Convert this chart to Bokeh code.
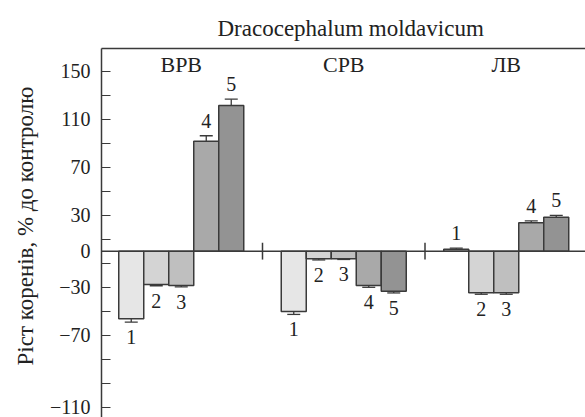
from bokeh.plotting import figure
from bokeh.models import (FixedTicker, LinearAxis, Span, Whisker, ColumnDataSource,
                          Range1d, TeeHead, Title)
from bokeh.core.properties import value
from bokeh.embed import file_html
from bokeh.resources import INLINE

# ---- data ----
groups = ["ВРВ", "СРВ", "ЛВ"]
bar_labels = ["1", "2", "3", "4", "5"]
vrv_values = [-56.3, -27.8, -28.6, 91.7, 121.4]
vrv_errors = [2.8, 1.0, 1.2, 4.5, 5.3]
srv_values = [-50.3, -6.3, -6.3, -28.6, -33.3]
srv_errors = [2.4, 1.0, 0.6, 1.5, 1.5]
lv_values = [1.7, -34.7, -34.7, 23.7, 28.3]
lv_errors = [0.8, 1.2, 1.2, 1.5, 1.5]
y_ticks = [150, 130, 110, 90, 70, 50, 30, 10, 0, -10, -30, -50, -70, -90, -110, -130]
y_tick_labels = {150: "150", 110: "110", 70: "70", 30: "30", 0: "0",
                 -30: "−30", -70: "−70", -130: "−110"}

values = [vrv_values, srv_values, lv_values]
errors = [vrv_errors, srv_errors, lv_errors]
colors = ["#e6e6e6", "#d4d4d4", "#bfbfbf", "#a9a9a9", "#939393"]
group_gap = 6.5
FONT = "Liberation Serif"
DARK = "#3a3a3a"

xs, tops, cols, uppers, lowers, ly, yoff, labs = [], [], [], [], [], [], [], []
for g, (vals, errs) in enumerate(zip(values, errors)):
    for i, (v, e) in enumerate(zip(vals, errs)):
        xs.append(g * group_gap + i + 0.5)
        tops.append(v)
        cols.append(colors[i])
        uppers.append(v + e)
        lowers.append(v - e)
        if v >= 0:
            ly.append(v + e)
            yoff.append(-15)
        else:
            ly.append(v - e)
            yoff.append(15)
        labs.append(bar_labels[i])

src = ColumnDataSource(dict(x=xs, top=tops, color=cols, upper=uppers,
                            lower=lowers, ly=ly, yoff=yoff, lab=labs))

p = figure(width=585, height=417, output_backend="svg", toolbar_location=None,
           x_range=Range1d(-0.69, 18.67), y_range=Range1d(-138.6, 168.9),
           min_border_left=101, min_border_right=0, min_border_top=48,
           min_border_bottom=0, x_axis_type=None, y_axis_type=None)
p.grid.visible = False
p.outline_line_color = None
p.background_fill_color = "white"

p.title.text = "Dracocephalum moldavicum"
p.title.align = "left"
p.title.offset = 116
p.title.standoff = 15
p.title.text_font = FONT
p.title.text_font_style = "normal"
p.title.text_font_size = "23px"
p.title.text_color = "#222222"

# top border line
top_axis = LinearAxis(ticker=FixedTicker(ticks=[]), major_tick_out=0, major_tick_in=0,
                      minor_tick_out=0, minor_tick_in=0, major_label_standoff=0,
                      axis_line_color=DARK, axis_line_width=1.5)
p.add_layout(top_axis, "above")

yaxis = LinearAxis(ticker=FixedTicker(ticks=y_ticks, minor_ticks=[]),
                   major_label_overrides={t: y_tick_labels.get(t, "") for t in y_ticks},
                   major_tick_in=9, major_tick_out=0, minor_tick_in=0, minor_tick_out=0,
                   major_label_standoff=11, axis_line_color=DARK, axis_line_width=1.5,
                   major_tick_line_color=DARK, major_tick_line_width=1.2,
                   major_label_text_font=FONT, major_label_text_font_size="20px",
                   major_label_text_color="#222222")
p.add_layout(yaxis, "left")

ytitle = Title(text="Ріст коренів, % до контролю", align="left", offset=52,
               standoff=17, text_font=FONT, text_font_style="normal",
               text_font_size="23px", text_color="#222222")
p.add_layout(ytitle, "left")

p.add_layout(Span(location=0, dimension="width", line_color=DARK, line_width=1.5))

# separators between groups
sep_x = [group_gap * (g + 1) - 0.75 for g in range(len(groups) - 1)]
p.segment(x0=sep_x, x1=sep_x, y0=[-7] * len(sep_x), y1=[7] * len(sep_x),
          line_color=DARK, line_width=1.5)

p.vbar(x="x", top="top", bottom=0, width=1.0, source=src, fill_color="color",
       line_color=DARK, line_width=1.5)

w = Whisker(base="x", upper="upper", lower="lower", dimension="height", source=src,
            line_color=DARK, line_width=1.3,
            upper_head=TeeHead(size=13, line_color=DARK, line_width=1.3),
            lower_head=TeeHead(size=13, line_color=DARK, line_width=1.3))
p.add_layout(w)

p.text(x="x", y="ly", text="lab", y_offset="yoff", source=src, text_align="center",
       text_baseline="middle", text_font=value(FONT), text_font_size="20px",
       text_color="#222222")

gx = [g * group_gap + 2.5 for g in range(len(groups))]
p.text(x=gx, y=[155.5] * len(groups), text=groups, text_align="center",
       text_baseline="middle", text_font=value(FONT), text_font_size="22px",
       text_color="#222222")

open("out.html", "w").write(file_html(p, INLINE))
